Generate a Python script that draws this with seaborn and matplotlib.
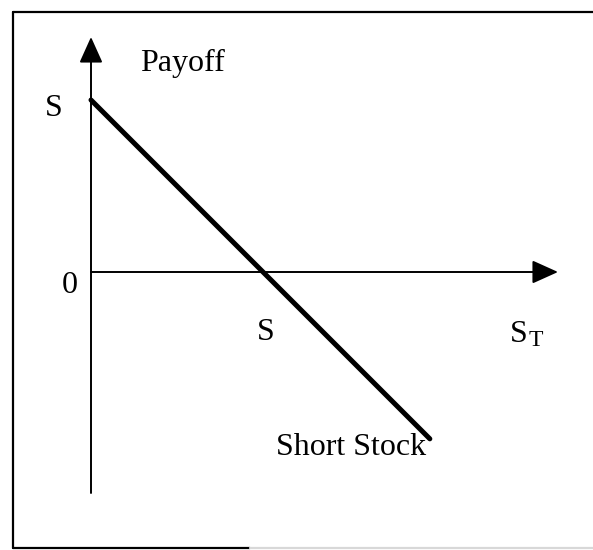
import numpy as np
import pandas as pd
import seaborn as sns
import matplotlib.pyplot as plt
from matplotlib.lines import Line2D

# short stock payoff, in units of the strike S
s_t = [0.0, 1.97]
payoff = [1.0, -0.97]
line_label = "Short Stock"

# pixel layout of the drawing (origin, one unit of S)
ox, oy, unit = 91, 272, 172
W, H = 593, 550


def px(x, y):
    return ((x - ox) / unit, (oy - y) / unit)


def main():
    sns.set_theme(style="white")
    plt.rcParams['font.family'] = ['Liberation Serif', 'DejaVu Serif']
    plt.rcParams['text.color'] = 'black'

    fig = plt.figure(figsize=(W / 100, H / 100), dpi=100)
    ax = fig.add_axes([0, 0, 1, 1])
    ax.axis('off')
    ax.set_xlim(px(0, 0)[0], px(W, 0)[0])
    ax.set_ylim(px(0, H)[1], px(0, 0)[1])

    df = pd.DataFrame({'S_T': s_t, 'Payoff': payoff})
    sns.lineplot(x='S_T', y='Payoff', data=df, color='black', lw=3.6,
                 solid_capstyle='round', ax=ax, legend=False)

    arrow = dict(arrowstyle='-|>,head_length=0.8,head_width=0.36',
                 mutation_scale=20, lw=1.4, color='black',
                 shrinkA=0, shrinkB=0)
    # vertical axis
    ax.annotate('', xy=px(ox, 37), xytext=px(ox, 493), arrowprops=arrow)
    # horizontal axis
    ax.annotate('', xy=px(558, oy), xytext=px(ox, oy), arrowprops=arrow)

    fs = 23
    kw = dict(fontsize=fs, ha='left', va='baseline', color='black')
    ax.text(*px(140, 71), 'Payoff', **kw)
    ax.text(*px(45, 116), 'S', **kw)
    ax.text(*px(62, 293), '0', **kw)
    ax.text(*px(257, 340), 'S', **kw)
    # S_T : subscript drawn as a smaller, lowered T
    ax.text(*px(510, 342), 'S', **kw)
    ax.text(*px(529, 346), 'T', fontsize=17, ha='left', va='baseline', color='black')
    ax.text(*px(276, 455), line_label, **kw)

    # page frame (left, top, bottom edges)
    def fline(x0, y0, x1, y1, c='black'):
        fig.add_artist(Line2D([x0 / W, x1 / W], [1 - y0 / H, 1 - y1 / H],
                              color=c, lw=1.6, transform=fig.transFigure))
    fline(13, 12, W, 12)
    fline(13, 12, 13, 548)
    fline(13, 548, 250, 548)
    fline(250, 548, W, 548, c='#d8d8d8')

    plt.savefig('out.png', dpi=100)
    plt.close()


if __name__ == "__main__":
    main()
